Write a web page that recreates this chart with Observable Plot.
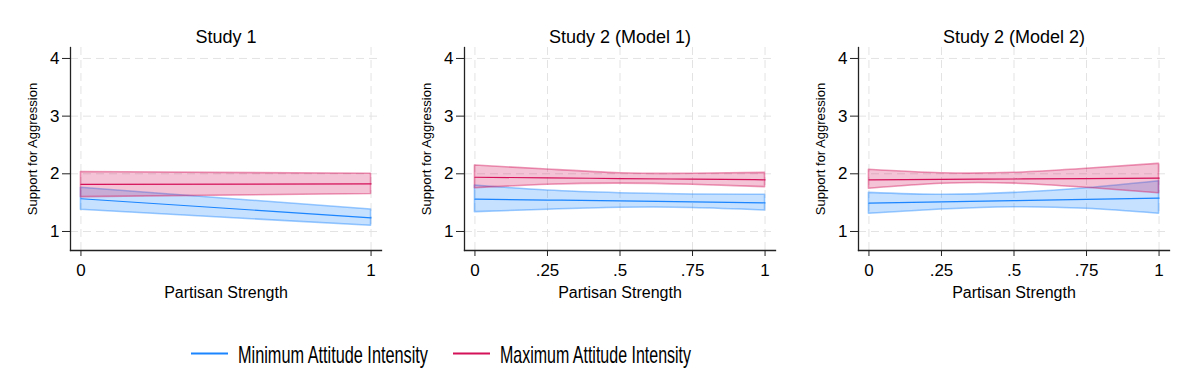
<!DOCTYPE html>
<html>
<head>
<meta charset="utf-8">
<script src="https://cdn.jsdelivr.net/npm/d3@7"></script>
<script src="https://cdn.jsdelivr.net/npm/@observablehq/plot@0.6"></script>
<style>
  html, body { margin: 0; padding: 0; background: #fff; }
  #root { position: relative; width: 1186px; height: 387px; background: #fff; font-family: "Liberation Sans", Arial, sans-serif; }
  .panel { position: absolute; top: 0; }
  #legend { position: absolute; left: 0; top: 330px; }
</style>
</head>
<body>
<div id="root"></div>
<script>
// ---------- data ----------
const panelTitles = ["Study 1", "Study 2 (Model 1)", "Study 2 (Model 2)"];
const seriesNames = ["Minimum Attitude Intensity", "Maximum Attitude Intensity"];
const seriesColors = ["#1a85ff", "#d41159"];
const yTicks = [1, 2, 3, 4];
const xTicksStudy1 = [0, 1];
const xTicksStudy2 = [0, 0.25, 0.5, 0.75, 1];
const xTickLabels = {0: "0", 0.25: ".25", 0.5: ".5", 0.75: ".75", 1: "1"};
const yTickLabels = {1: "1", 2: "2", 3: "3", 4: "4"};
const yLabel = "Support for Aggression";
const xLabel = "Partisan Strength";

// Study 1
const s1X = [0, 1];
const s1MinFit = [1.567, 1.237];
const s1MinLo  = [1.376, 1.098];
const s1MinHi  = [1.757, 1.380];
const s1MaxFit = [1.815, 1.826];
const s1MaxLo  = [1.595, 1.650];
const s1MaxHi  = [2.030, 2.000];

// Study 2 (Model 1)
const m1X = [0, 0.25, 0.5, 0.75, 1];
const m1MinFit = [1.560, 1.545, 1.530, 1.512, 1.497];
const m1MinLo  = [1.335, 1.376, 1.410, 1.408, 1.364];
const m1MinHi  = [1.797, 1.710, 1.664, 1.640, 1.636];
const m1MaxFit = [1.940, 1.930, 1.918, 1.907, 1.896];
const m1MaxLo  = [1.750, 1.810, 1.830, 1.810, 1.768];
const m1MaxHi  = [2.144, 2.075, 2.010, 2.000, 2.017];

// Study 2 (Model 2)
const m2X = [0, 0.25, 0.5, 0.75, 1];
const m2MinFit = [1.490, 1.512, 1.535, 1.556, 1.577];
const m2MinLo  = [1.307, 1.380, 1.420, 1.393, 1.307];
const m2MinHi  = [1.670, 1.636, 1.670, 1.750, 1.872];
const m2MaxFit = [1.896, 1.903, 1.910, 1.917, 1.924];
const m2MaxLo  = [1.740, 1.827, 1.830, 1.757, 1.664];
const m2MaxHi  = [2.070, 2.010, 2.017, 2.087, 2.173];

// ---------- build tables ----------
function table(xs, minFit, minLo, minHi, maxFit, maxLo, maxHi) {
  const rows = [];
  xs.forEach((x, i) => rows.push({series: seriesNames[0], x, fit: minFit[i], lo: minLo[i], hi: minHi[i]}));
  xs.forEach((x, i) => rows.push({series: seriesNames[1], x, fit: maxFit[i], lo: maxLo[i], hi: maxHi[i]}));
  return rows;
}
const panels = [
  {title: panelTitles[0], xTicks: xTicksStudy1, data: table(s1X, s1MinFit, s1MinLo, s1MinHi, s1MaxFit, s1MaxLo, s1MaxHi), left: 0},
  {title: panelTitles[1], xTicks: xTicksStudy2, data: table(m1X, m1MinFit, m1MinLo, m1MinHi, m1MaxFit, m1MaxLo, m1MaxHi), left: 394},
  {title: panelTitles[2], xTicks: xTicksStudy2, data: table(m2X, m2MinFit, m2MinLo, m2MinHi, m2MaxFit, m2MaxLo, m2MaxHi), left: 788}
];

const FONT = '"Liberation Sans", Arial, Helvetica, sans-serif';
const root = document.getElementById("root");
const gridStyle = {stroke: "#e3e3e3", strokeOpacity: 1, strokeWidth: 1, strokeDasharray: "8,5"};

for (const p of panels) {
  const curve = p.data.length > 4 ? "natural" : "linear";
  const chart = Plot.plot({
    width: 391,
    height: 305,
    marginLeft: 70,
    marginRight: 10,
    marginTop: 47,
    marginBottom: 55,
    style: {fontFamily: FONT, fontSize: "16px", color: "#000", background: "#fff", overflow: "visible"},
    x: {domain: [-0.036, 1.036]},
    y: {domain: [0.67, 4.19]},
    color: {domain: seriesNames, range: seriesColors},
    marks: [
      Plot.gridY(yTicks, gridStyle),
      Plot.gridX(p.xTicks, gridStyle),
      Plot.areaY(p.data, {x: "x", y1: "lo", y2: "hi", z: "series", fill: "series", fillOpacity: 0.25,
        stroke: "series", strokeOpacity: 0.42, strokeWidth: 1.6, curve}),
      Plot.lineY(p.data, {x: "x", y: "fit", z: "series", stroke: "series", strokeWidth: 1.2, curve}),
      Plot.axisY({ticks: yTicks, tickFormat: d => yTickLabels[d], tickSize: 8, tickPadding: 3, label: null, fontSize: 17, stroke: "#222"}),
      Plot.axisX({ticks: p.xTicks, tickFormat: d => xTickLabels[d], tickSize: 6, tickPadding: 7, label: null, fontSize: 17, stroke: "#222"}),
      Plot.frame({anchor: "left", stroke: "#222", strokeWidth: 1.3}),
      Plot.frame({anchor: "bottom", stroke: "#222", strokeWidth: 1.3}),
      Plot.text([p.title], {text: d => d, frameAnchor: "top", lineAnchor: "middle", dy: -10, fontSize: 18}),
      Plot.text([yLabel], {text: d => d, frameAnchor: "left", textAnchor: "middle", lineAnchor: "middle", rotate: -90, dx: -38, fontSize: 13}),
      Plot.text([xLabel], {text: d => d, frameAnchor: "bottom", lineAnchor: "middle", dy: 42, fontSize: 16})
    ]
  });
  chart.classList.add("panel");
  chart.style.left = p.left + "px";
  root.appendChild(chart);
}

// ---------- legend ----------
const legendItems = [
  {name: seriesNames[0], color: seriesColors[0], x: 191, w: 190},
  {name: seriesNames[1], color: seriesColors[1], x: 453, w: 191}
];
const ns = "http://www.w3.org/2000/svg";
const leg = document.createElementNS(ns, "svg");
leg.setAttribute("id", "legend");
leg.setAttribute("width", 1186);
leg.setAttribute("height", 57);
for (const it of legendItems) {
  const ln = document.createElementNS(ns, "line");
  ln.setAttribute("x1", it.x); ln.setAttribute("x2", it.x + 37);
  ln.setAttribute("y1", 23.5); ln.setAttribute("y2", 23.5);
  ln.setAttribute("stroke", it.color); ln.setAttribute("stroke-width", 2);
  leg.appendChild(ln);
  const tx = document.createElementNS(ns, "text");
  tx.setAttribute("x", it.x + 47); tx.setAttribute("y", 32.5);
  tx.setAttribute("font-family", FONT); tx.setAttribute("font-size", 24);
  tx.setAttribute("textLength", it.w); tx.setAttribute("lengthAdjust", "spacingAndGlyphs");
  tx.setAttribute("fill", "#000");
  tx.textContent = it.name;
  leg.appendChild(tx);
}
root.appendChild(leg);
</script>
</body>
</html>
